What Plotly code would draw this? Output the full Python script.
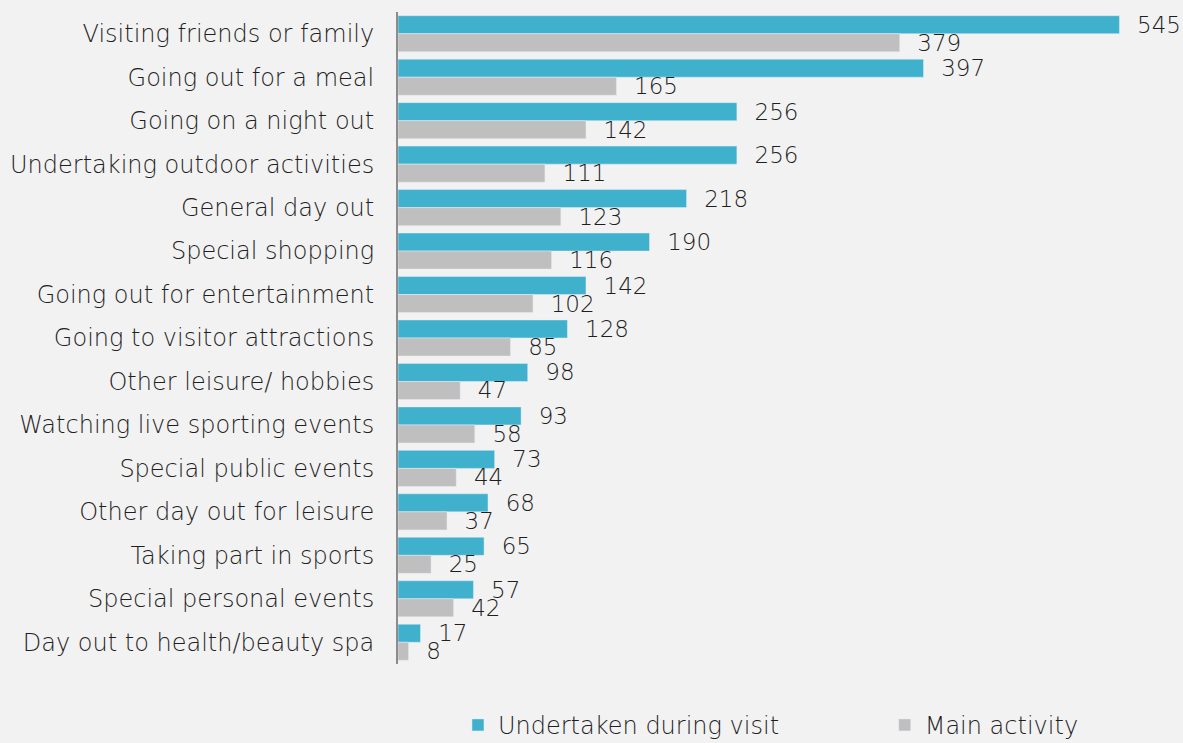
import plotly.graph_objects as go

categories = [
    "Visiting friends or family",
    "Going out for a meal",
    "Going on a night out",
    "Undertaking outdoor activities",
    "General day out",
    "Special shopping",
    "Going out for entertainment",
    "Going to visitor attractions",
    "Other leisure/ hobbies",
    "Watching live sporting events",
    "Special public events",
    "Other day out for leisure",
    "Taking part in sports",
    "Special personal events",
    "Day out to health/beauty spa",
]
undertaken = [545, 397, 256, 256, 218, 190, 142, 128, 98, 93, 73, 68, 65, 57, 17]
main_activity = [379, 165, 142, 111, 123, 116, 102, 85, 47, 58, 44, 37, 25, 42, 8]

font_family = "DejaVu Sans, sans-serif"
text_color = "#1f1f1f"
FS = 23
FS_T = 24

fig = go.Figure()
fig.add_trace(go.Bar(
    y=categories, x=undertaken, orientation="h", name="Undertaken during visit",
    marker=dict(color="#3fb1cc"),
    text=undertaken, texttemplate="  %{x}", textposition="outside",
    textfont=dict(size=FS, color=text_color, family=font_family, weight=200),
    cliponaxis=False, legend="legend",
))
fig.add_trace(go.Bar(
    y=categories, x=main_activity, orientation="h", name="Main activity",
    marker=dict(color="#bfbfbf"),
    text=main_activity, texttemplate="  %{x}", textposition="outside",
    textfont=dict(size=FS, color=text_color, family=font_family, weight=200),
    cliponaxis=False, legend="legend2",
))

legend_common = dict(
    font=dict(size=FS_T, color=text_color, family=font_family, weight=200),
    bgcolor="rgba(0,0,0,0)", itemwidth=30,
    yanchor="middle", y=-0.094,
)

fig.update_layout(
    width=1183, height=743,
    barmode="group", bargap=0.17, bargroupgap=0,
    paper_bgcolor="#f2f2f2", plot_bgcolor="#f2f2f2",
    margin=dict(l=398, r=0, t=12, b=79, autoexpand=False),
    font=dict(family=font_family, size=FS, color=text_color, weight=200),
    uniformtext=dict(minsize=FS, mode="show"),
    legend=dict(x=0.0764, xanchor="left", **legend_common),
    legend2=dict(x=0.620, xanchor="left", **legend_common),
    showlegend=True,
)
fig.update_xaxes(range=[0, 593], visible=False, showgrid=False, zeroline=False)
fig.update_yaxes(
    autorange="reversed", showgrid=False, zeroline=False,
    showline=True, linecolor="#8c8c8c", linewidth=2,
    ticks="", ticklabelstandoff=17, automargin=False,
    tickfont=dict(size=FS_T, color=text_color, family=font_family, weight=200),
)

fig.write_html(
    "out.html",
    config={"displayModeBar": False},
    post_script="document.body.style.margin='0';document.body.style.overflow='hidden';",
)
